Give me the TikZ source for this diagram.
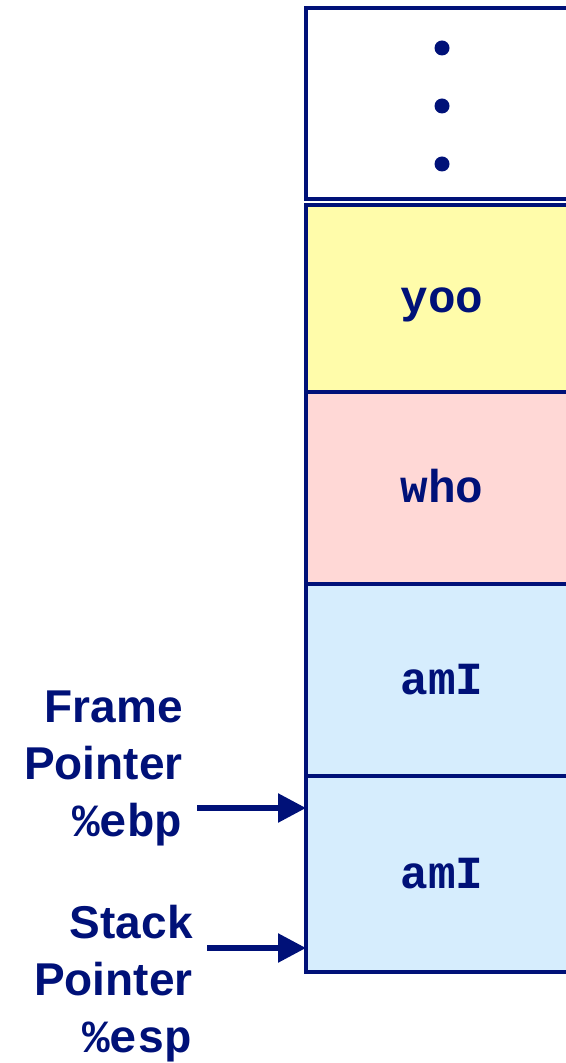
\documentclass[tikz,border=0pt]{standalone}
\usepackage{fontspec}
\setsansfont{Liberation Sans}
\setmonofont{Liberation Mono}
\usepackage{tikz}
\usetikzlibrary{arrows.meta,positioning}
\definecolor{navy}{RGB}{0,17,120}
\definecolor{yoofill}{RGB}{255,252,170}
\definecolor{whofill}{RGB}{255,216,214}
\definecolor{amifill}{RGB}{214,237,253}
\tikzstyle{cell} = [draw=navy,line width=2pt,minimum width=136pt,inner sep=0pt,outer sep=0pt,text height=14pt,text depth=0pt,text=navy,font=\fontsize{23}{28}\ttfamily\bfseries]
\tikzstyle{dot} = [circle,fill=navy,inner sep=0pt,minimum size=7.5pt]
\tikzstyle{ptrlabel} = [anchor=north east,align=right,inner xsep=7pt,inner ysep=0pt,text=navy,font=\fontsize{23}{28.5}\sffamily\bfseries]
\tikzstyle{ptr} = [line width=2.8pt,navy,-{Triangle[length=14pt,width=14pt]}]

\begin{document}
\begin{tikzpicture}[x=0.5pt,y=-0.5pt]
    \useasboundingbox (0,0) rectangle (566,1063);

    % stack cells
    \node [cell,minimum height=95.5pt] (dots) at (442,103.5) {};
    \foreach \y in {48,106,164}
      \node [dot] at (442,\y) {};
    \node [cell,fill=yoofill,minimum height=93.5pt,below=3pt of dots] (yoo) {yoo};
    \node [cell,fill=whofill,minimum height=96pt,below=0pt of yoo] (who) {who};
    \node [cell,fill=amifill,minimum height=96pt,below=0pt of who] (amIa) {amI};
    \node [cell,fill=amifill,minimum height=98pt,below=0pt of amIa] (amIb) {amI};

    % pointers
    \node [ptrlabel] (fp) at (197,690) {Frame\\Pointer\\\texttt{\%ebp}};
    \node [ptrlabel] (sp) at (207,905) {Stack\\Pointer\\\texttt{\%esp}};
    \coordinate [below=16pt of amIb.north west] (ebptip);
    \coordinate [above=12pt of amIb.south west] (esptip);
    \draw [ptr] (fp.east |- ebptip) -- (ebptip);
    \draw [ptr] (sp.east |- esptip) -- (esptip);
  \end{tikzpicture}
\end{document}
